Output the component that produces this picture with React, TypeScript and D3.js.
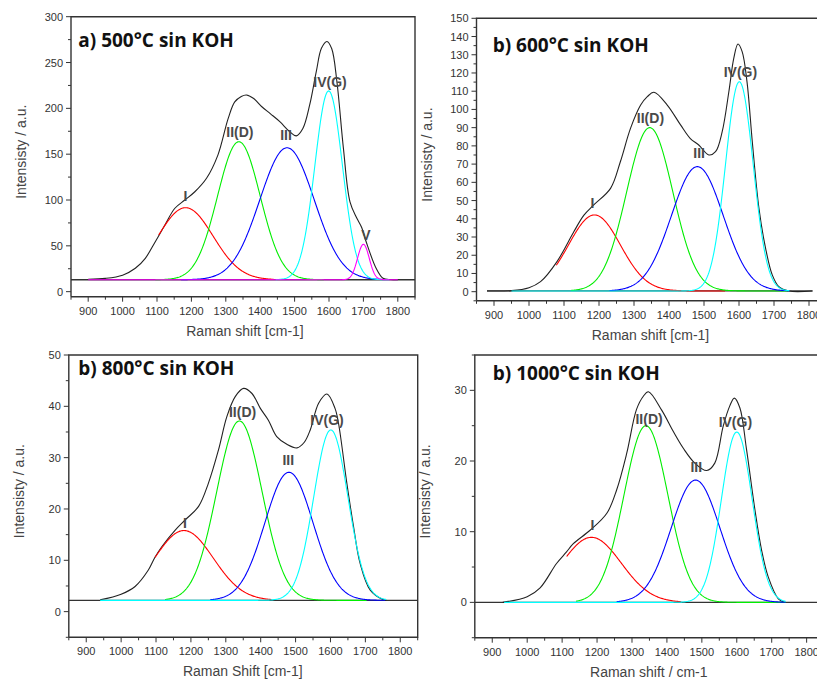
import React from 'react';
import * as d3 from 'd3';

// ---------- Panel a) 500°C ----------
const aEnvelope: [number, number][] = [[900,13.5],[950,14.5],[1000,18],[1037,25.5],[1066,36.4],[1095,54.5],[1123,72.8],[1152,91],[1181,100],[1210,109],[1244,123.7],[1277,149],[1307,189],[1326,207],[1345,213],[1360,214.6],[1380,211],[1404,202],[1430,194],[1457,185.5],[1486,174.5],[1505,170],[1524,178],[1544,204],[1563,240],[1578,265.5],[1594,273],[1608,265],[1623,229],[1642,156],[1661,98],[1681,80],[1695,70],[1708,54.5],[1737,25.5],[1757,14.6],[1780,13.2],[1800,13]];
const aBaseline = 13;
const aCenters = [1183, 1338, 1478, 1599, 1700];
const aHeights = [91.6, 163.6, 157, 219, 51.7];
const aWidths = [80, 62, 79, 40, 17];
const aRanges: [number, number][] = [[1105,1440],[1095,1585],[1170,1755],[1445,1775],[900,1800]];
const aLabels = ['I', 'II(D)', 'III', 'IV(G)', 'V'];
const aLabelX = [1183, 1341, 1475, 1603, 1707];
const aLabelY = [98.5, 169, 165.5, 223, 56.4];
const aYTicks = [0, 50, 100, 150, 200, 250, 300];

// ---------- Panel b) 600°C ----------
const bEnvelope: [number, number][] = [[880,0.4],[950,0.6],[1000,2.2],[1033,5.5],[1080,16.5],[1128,32.9],[1157,42],[1185,47.6],[1233,56.7],[1261,71.3],[1290,89.6],[1319,102.4],[1338,107],[1357,109.4],[1395,102.4],[1433,91.5],[1461,84],[1485,80.5],[1514,75],[1533,76.8],[1552,87.8],[1571,109.7],[1585,128],[1597,135.9],[1609,131.7],[1623,115],[1638,82.3],[1657,45.8],[1676,23.8],[1695,9.2],[1714,2.7],[1742,0.4],[1810,0.4]];
const bBaseline = 0.4;
const bCenters = [1187, 1345, 1481, 1601];
const bHeights = [42.1, 90, 68.6, 115.2];
const bWidths = [74, 66, 74, 39.5];
const bRanges: [number, number][] = [[1078,1560],[1120,1740],[1230,1745],[950,1745]];
const bLabels = ['I', 'II(D)', 'III', 'IV(G)'];
const bLabelX = [1181, 1347, 1486, 1604];
const bLabelY = [46, 92.4, 73.2, 118];
const bYTicks = d3.range(0, 151, 10);

// ---------- Panel c) 800°C ----------
const cEnvelope: [number, number][] = [[940,2.3],[1000,3.4],[1040,4.9],[1078,8.1],[1097,10.6],[1117,12.7],[1155,15.9],[1184,17.9],[1222,20.5],[1250,25],[1279,31.5],[1303,38],[1327,41.9],[1351,43.5],[1375,42.5],[1399,39.6],[1422,37.3],[1446,34.1],[1475,32.6],[1504,31.9],[1525,33],[1542,35.4],[1566,40.6],[1590,42.4],[1613,39.6],[1623,36.7],[1647,25],[1666,16.6],[1685,9.4],[1714,4.2],[1752,2.3],[1760,2.2]];
const cBaseline = 2.2;
const cCenters = [1180, 1339, 1481, 1601];
const cHeights = [15.8, 37.15, 27.15, 35.4];
const cWidths = [84, 65, 69, 49];
const cRanges: [number, number][] = [[1097,1432],[1126,1705],[1255,1757],[940,1760]];
const cLabels = ['I', 'II(D)', 'III', 'IV(G)'];
const cLabelX = [1183, 1348, 1479, 1590];
const cLabelY = [16.2, 38, 28.6, 36.4];
const cYTicks = [0, 10, 20, 30, 40, 50];

// ---------- Panel d) 1000°C ----------
const dEnvelope: [number, number][] = [[930,0],[1000,0.8],[1037,2.05],[1084,5.5],[1112,7.1],[1132,8.3],[1180,10.2],[1228,12.6],[1256,15.9],[1285,21.1],[1313,27.3],[1333,29.2],[1347,29.8],[1385,27.2],[1418,24.2],[1447,21.8],[1480,19.7],[1514,18.65],[1537,19.7],[1561,24.9],[1580,27.8],[1593,28.9],[1609,27.5],[1628,21.6],[1652,13.1],[1671,7.4],[1690,3.6],[1719,0.5],[1738,0]];
const dBaseline = 0;
const dCenters = [1184, 1340, 1482, 1600];
const dHeights = [9.2, 25.0, 17.3, 24.1];
const dWidths = [85, 63, 70, 44];
const dRanges: [number, number][] = [[1113,1442],[1140,1740],[1256,1740],[934,1740]];
const dLabels = ['I', 'II(D)', 'III', 'IV(G)'];
const dLabelX = [1187, 1349, 1484, 1596];
const dLabelY = [10.2, 25.3, 18.5, 24.8];
const dYTicks = [0, 10, 20, 30];

const xTicks = d3.range(900, 1801, 100);
const peakColors = ['#ff0000', '#00ee00', '#0000ff', '#00ffff', '#ff00ff'];

type PanelProps = {
  id: string;
  left: number; top: number; right: number; bottom: number;
  yDomain: [number, number];
  yTicks: number[];
  yMinorStep: number;
  title: string; titleDx: number; titleDy: number;
  xTitle: string;
  envelope: [number, number][];
  baseline: number;
  baseRange: [number, number];
  centers: number[]; heights: number[]; widths: number[]; ranges: [number, number][];
  labels: string[]; labelX: number[]; labelY: number[];
};

function Panel(p: PanelProps) {
  const x = d3.scaleLinear().domain([850, 1850]).range([p.left, p.right]);
  const y = d3.scaleLinear().domain(p.yDomain).range([p.bottom, p.top]);
  const env = d3.line<[number, number]>().x(d => x(d[0])).y(d => y(d[1])).curve(d3.curveCatmullRom.alpha(0.5));
  const lin = d3.line<[number, number]>().x(d => x(d[0])).y(d => y(d[1]));
  const comps = p.centers.map((c, i) => {
    const [lo, hi] = p.ranges[i];
    const amp = p.heights[i] - p.baseline;
    const s = p.widths[i];
    const pts: [number, number][] = d3.range(lo, hi + 0.01, 2).map(v => [v, p.baseline + amp * Math.exp(-((v - c) ** 2) / (2 * s * s))]);
    return pts;
  });
  const minorX = d3.range(850, 1851, 50).filter(v => v % 100 !== 0);
  const yMin = p.yDomain[0], yMax = p.yDomain[1];
  const minorY = d3.range(Math.ceil(yMin / p.yMinorStep) * p.yMinorStep, yMax + 0.01, p.yMinorStep).filter(v => !p.yTicks.includes(v));
  const axisColor = '#333';
  const ycenter = (p.top + p.bottom) / 2 - 5;
  return (
    <g>
      <defs>
        <clipPath id={'clip' + p.id}>
          <rect x={p.left} y={p.top} width={p.right - p.left} height={p.bottom - p.top} />
        </clipPath>
      </defs>
      <g clipPath={`url(#clip${p.id})`}>
        <path d={lin([[p.baseRange[0], p.baseline], [p.baseRange[1], p.baseline]]) || ''} stroke="#333" strokeWidth={1.3} fill="none" />
        <path d={env(p.envelope) || ''} stroke="#222" strokeWidth={1.1} fill="none" />
        {comps.map((pts, i) => (
          <path key={i} d={lin(pts) || ''} stroke={peakColors[i]} strokeWidth={1.1} fill="none" />
        ))}
      </g>
      <path d={`M${p.left},${p.bottom}V${p.top}H${p.right}V${p.bottom}H${p.left}`} stroke={axisColor} strokeWidth={1.4} fill="none" />
      {xTicks.map(v => (
        <g key={'x' + v}>
          <line x1={x(v)} x2={x(v)} y1={p.bottom} y2={p.bottom + 5} stroke={axisColor} strokeWidth={1} />
          <text x={x(v)} y={p.bottom + 18} textAnchor="middle" fontSize={11} fill="#333" fontFamily="Liberation Sans, Arial, sans-serif">{v}</text>
        </g>
      ))}
      {minorX.map(v => (
        <line key={'mx' + v} x1={x(v)} x2={x(v)} y1={p.bottom} y2={p.bottom + 3} stroke={axisColor} strokeWidth={1} />
      ))}
      {p.yTicks.map(v => (
        <g key={'y' + v}>
          <line x1={p.left - 5} x2={p.left} y1={y(v)} y2={y(v)} stroke={axisColor} strokeWidth={1} />
          <text x={p.left - 8} y={y(v) + 4} textAnchor="end" fontSize={11} fill="#333" fontFamily="Liberation Sans, Arial, sans-serif">{v}</text>
        </g>
      ))}
      {minorY.map(v => (
        <line key={'my' + v} x1={p.left - 3} x2={p.left} y1={y(v)} y2={y(v)} stroke={axisColor} strokeWidth={1} />
      ))}
      {p.labels.map((t, i) => (
        <text key={'l' + i} x={x(p.labelX[i])} y={y(p.labelY[i])} textAnchor="middle" fontSize={14} fontWeight="bold" fill="#4a4a4a" fontFamily="Liberation Sans, Arial, sans-serif">{t}</text>
      ))}
      <text x={p.left + p.titleDx} y={p.top + p.titleDy} fontSize={19} fontWeight="bold" fill="#111" fontFamily="Open Sans, sans-serif">{p.title}</text>
      <text x={p.left + 174} y={p.bottom + 39} textAnchor="middle" fontSize={14} fill="#444" fontFamily="Liberation Sans, Arial, sans-serif">{p.xTitle}</text>
      <text transform={`translate(${p.left - 45},${ycenter}) rotate(-90)`} textAnchor="middle" fontSize={14} fill="#444" fontFamily="Liberation Sans, Arial, sans-serif">Intensisty / a.u.</text>
    </g>
  );
}

export default function App() {
  return (
    <svg width={817} height={682} style={{ position: 'absolute', left: 0, top: 0, background: '#fff' }}>
      <rect width={817} height={682} fill="#fff" />
      <Panel id="a" left={71} top={16.7} right={415} bottom={296.7} yDomain={[-5.5, 300]} yTicks={aYTicks} yMinorStep={25}
        title="a) 500°C sin KOH" titleDx={7.3} titleDy={30} xTitle="Raman shift [cm-1]"
        envelope={aEnvelope} baseline={aBaseline} baseRange={[850, 1850]}
        centers={aCenters} heights={aHeights} widths={aWidths} ranges={aRanges}
        labels={aLabels} labelX={aLabelX} labelY={aLabelY} />
      <Panel id="b" left={476.5} top={18.3} right={826.5} bottom={300.8} yDomain={[-5, 150]} yTicks={bYTicks} yMinorStep={5}
        title="b) 600°C sin KOH" titleDx={16.2} titleDy={33.4} xTitle="Raman shift [cm-1]"
        envelope={bEnvelope} baseline={bBaseline} baseRange={[880, 1810]}
        centers={bCenters} heights={bHeights} widths={bWidths} ranges={bRanges}
        labels={bLabels} labelX={bLabelX} labelY={bLabelY} />
      <Panel id="c" left={68.8} top={355} right={417.7} bottom={637.3} yDomain={[-5, 50]} yTicks={cYTicks} yMinorStep={5}
        title="b) 800°C sin KOH" titleDx={9.5} titleDy={20} xTitle="Raman Shift [cm-1]"
        envelope={cEnvelope} baseline={cBaseline} baseRange={[850, 1850]}
        centers={cCenters} heights={cHeights} widths={cWidths} ranges={cRanges}
        labels={cLabels} labelX={cLabelX} labelY={cLabelY} />
      <Panel id="d" left={474.8} top={355} right={824.1} bottom={637.7} yDomain={[-5, 35]} yTicks={dYTicks} yMinorStep={5}
        title="b) 1000°C sin KOH" titleDx={18} titleDy={25} xTitle="Raman shift / cm-1"
        envelope={dEnvelope} baseline={dBaseline} baseRange={[850, 1850]}
        centers={dCenters} heights={dHeights} widths={dWidths} ranges={dRanges}
        labels={dLabels} labelX={dLabelX} labelY={dLabelY} />
    </svg>
  );
}
